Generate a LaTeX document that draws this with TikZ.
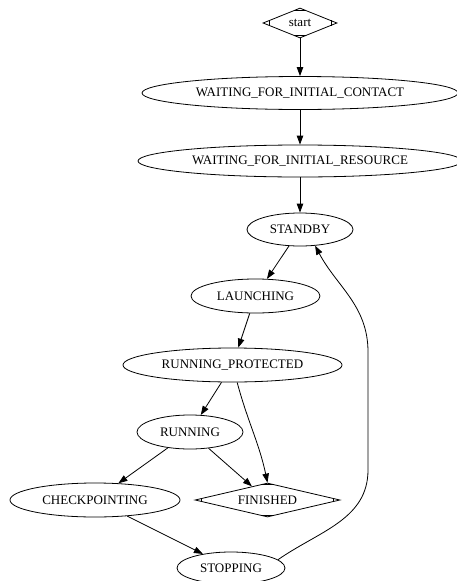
\documentclass[tikz,border=0pt]{standalone}
\usepackage{fontspec}
\setmainfont{Liberation Serif}
\usepackage{tikz}
\usetikzlibrary{arrows.meta,shapes.geometric,calc}
\usetikzlibrary{positioning}

\begin{document}
\begin{tikzpicture} [x=1pt,y=1pt]
	 \tikzstyle{state}=[ellipse,draw,line width=0.8pt,inner sep=0pt,font=\fontsize{13}{15}\selectfont]
	 \tikzstyle{mstate}=[diamond,draw,line width=0.8pt,inner sep=0pt,font=\fontsize{13}{15}\selectfont]
	 \tikzstyle{edge} = [draw,line width=0.8pt,-{Triangle[length=9pt,width=6.5pt]},black]
	 \useasboundingbox (0,0) rectangle (456,-581);
	 \node[mstate,aspect=2,minimum width=74pt,minimum height=30pt] (start) at (300,-23) {start};
	 \node[state,minimum width=316pt,minimum height=33pt] (wfic) at (300,-93) {WAITING\_FOR\_INITIAL\_CONTACT};
	 \node[state,minimum width=324pt,minimum height=32pt] (wfir) at (300,-161) {WAITING\_FOR\_INITIAL\_RESOURCE};
	 \node[state,minimum width=106pt,minimum height=33pt] (standby) at (300,-229.5) {STANDBY};
	 \node[state,minimum width=129pt,minimum height=34pt] (launching) at (255.5,-296) {LAUNCHING};
	 \node[state,minimum width=219pt,minimum height=34pt] (rp) at (232.5,-365) {RUNNING\_PROTECTED};
	 \node[state,minimum width=106pt,minimum height=34pt] (running) at (190,-432) {RUNNING};
	 \node[state,minimum width=170pt,minimum height=34pt] (checkpointing) at (95,-500) {CHECKPOINTING};
	 \node[mstate,aspect=4,minimum width=145pt,minimum height=34pt] (fin) at (267.5,-500) {FINISHED};
	 \node[state,minimum width=108pt,minimum height=32pt] (stopping) at (231,-568) {STOPPING};
	 \coordinate (r1) at (368,-470);
	 \coordinate (r2) at (368,-352);

	 % corner marks of the Mdiamond nodes
	 \foreach \nd in {start,fin}
	   \foreach \c/\a/\b in {west/north/south,east/north/south,north/west/east,south/west/east}
	     \draw[line width=0.8pt] ($(\nd.\c)!7pt!(\nd.\a)$) -- ($(\nd.\c)!7pt!(\nd.\b)$);

	 \draw[edge] (start.south) -- (wfic.north);
	 \draw[edge] (wfic.south) -- (wfir.north);
	 \draw[edge] (wfir.south) -- (standby.north);
	 \draw[edge] (standby) -- (launching);
	 \draw[edge] (launching) -- (rp);
	 \draw[edge] (rp) -- (running);
	 \draw[edge] (rp) to[out=-75,in=102] (fin.north);
	 \draw[edge] (running) -- (checkpointing);
	 \draw[edge] (running) -- (fin);
	 \draw[edge] (checkpointing) -- (stopping);
	 \draw[edge] (stopping.10) to[out=35,in=-90] (r1) -- (r2) to[out=90,in=-62] (standby.-47);
 \end{tikzpicture}
\end{document}
